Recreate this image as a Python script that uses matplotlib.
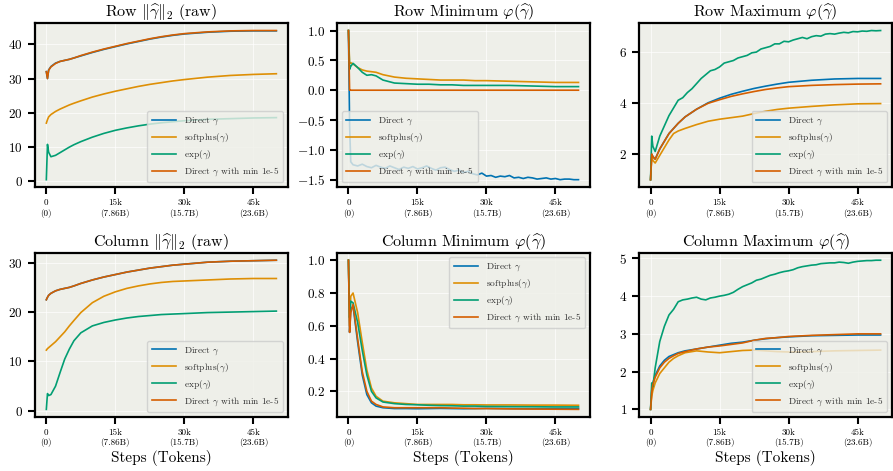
import matplotlib
matplotlib.use("Agg")
import matplotlib.pyplot as plt

plt.rcParams["font.family"] = ["cmr10", "DejaVu Serif"]
plt.rcParams["mathtext.fontset"] = "cm"
plt.rcParams["axes.formatter.use_mathtext"] = True

# x grids (training steps)
steps = [0, 250, 500, 1000, 2000, 3000, 4000, 5000, 6000, 7500, 10000, 12500, 15000,
         17500, 20000, 22500, 25000, 27500, 30000, 35000, 40000, 45000, 50000]
steps_fine = [0, 250, 500, 1000, 2000, 3000, 4000, 5000, 6000, 7000, 8000, 9000, 10000,
              11000, 12000, 13000, 14000, 15000, 16000, 17000, 18000, 19000, 20000,
              21000, 22000, 23000, 24000, 25000, 26000, 27000, 28000, 29000, 30000,
              31000, 32000, 33000, 34000, 35000, 36000, 37000, 38000, 39000, 40000,
              41000, 42000, 43000, 44000, 45000, 46000, 47000, 48000, 49000, 50000]

labels = [r"Direct $\gamma$", r"softplus($\gamma$)", r"exp($\gamma$)", r"Direct $\gamma$ with min 1e-5"]
colors = ["#0173b2", "#de8f05", "#029e73", "#d55e00"]

# Row ||gamma||_2
row_l2_direct = [32, 30, 32.5, 33.5, 34.5, 35, 35.3, 35.6, 36, 36.6, 37.6, 38.5, 39.3, 40.1, 40.8,
                 41.5, 42.1, 42.6, 43, 43.5, 43.8, 43.9, 43.9]
row_l2_softplus = [17, 18, 18.8, 19.5, 20.4, 21.1, 21.7, 22.3, 22.8, 23.5, 24.6, 25.5, 26.3, 27,
                   27.7, 28.3, 28.8, 29.3, 29.7, 30.4, 30.9, 31.2, 31.4]
row_l2_exp = [0.5, 10.8, 8.5, 7.2, 7.6, 8.4, 9.2, 10, 10.7, 11.6, 12.9, 14, 14.9, 15.6, 16.2,
              16.7, 17.1, 17.4, 17.7, 18.1, 18.3, 18.5, 18.6]
row_l2_min = [32, 30, 32.4, 33.4, 34.4, 35, 35.3, 35.6, 36, 36.7, 37.7, 38.6, 39.4, 40.2, 40.9,
              41.6, 42.2, 42.7, 43.1, 43.6, 43.9, 44.0, 44.0]

# Row minimum phi
row_min_direct = [1.0, -0.6, -1.2, -1.25, -1.27, -1.24, -1.28, -1.3, -1.26, -1.29, -1.31, -1.27,
                  -1.3, -1.33, -1.29, -1.31, -1.28, -1.32, -1.3, -1.27, -1.31, -1.34, -1.3,
                  -1.29, -1.33, -1.36, -1.34, -1.38, -1.36, -1.4, -1.42, -1.39, -1.44, -1.43,
                  -1.46, -1.44, -1.45, -1.43, -1.47, -1.46, -1.48, -1.46, -1.47, -1.49, -1.48,
                  -1.47, -1.49, -1.48, -1.5, -1.49, -1.49, -1.5, -1.5]
row_min_softplus = [1.0, 0.45, 0.46, 0.44, 0.38, 0.34, 0.32, 0.31, 0.3, 0.26, 0.22, 0.2, 0.19,
                    0.18, 0.17, 0.17, 0.17, 0.16, 0.16, 0.15, 0.14, 0.13, 0.13]
row_min_exp = [1.0, 0.35, 0.4, 0.45, 0.38, 0.3, 0.25, 0.26, 0.24, 0.17, 0.12, 0.11, 0.1, 0.1,
               0.09, 0.09, 0.08, 0.08, 0.08, 0.08, 0.07, 0.06, 0.06]
row_min_min = [1.0, 0.0, 0.0, 0.0, 0.0, 0.0, 0.0, 0.0, 0.0, 0.0, 0.0, 0.0, 0.0, 0.0, 0.0, 0.0,
               0.0, 0.0, 0.0, 0.0, 0.0, 0.0, 0.0]

# Row maximum phi
row_max_direct = [1.0, 2.0, 1.9, 1.8, 2.2, 2.5, 2.8, 3.0, 3.2, 3.45, 3.75, 4.0, 4.18, 4.33, 4.45,
                  4.56, 4.65, 4.73, 4.8, 4.88, 4.93, 4.95, 4.95]
row_max_softplus = [1.0, 1.9, 1.75, 1.65, 1.95, 2.25, 2.55, 2.8, 2.9, 3.0, 3.15, 3.28, 3.36, 3.42,
                    3.48, 3.58, 3.67, 3.74, 3.79, 3.86, 3.92, 3.96, 3.97]
row_max_exp = [1.0, 2.7, 2.3, 2.1, 2.7, 3.1, 3.5, 3.8, 4.1, 4.2, 4.4, 4.55, 4.75, 4.95, 5.1, 5.25,
               5.3, 5.4, 5.55, 5.6, 5.65, 5.75, 5.8, 5.85, 5.95, 5.98, 6.1, 6.15, 6.2, 6.3, 6.3,
               6.4, 6.38, 6.45, 6.5, 6.55, 6.5, 6.58, 6.62, 6.6, 6.68, 6.7, 6.68, 6.72, 6.75,
               6.73, 6.78, 6.77, 6.8, 6.79, 6.82, 6.81, 6.82]
row_max_min = [1.0, 2.0, 1.9, 1.8, 2.2, 2.5, 2.8, 3.0, 3.2, 3.45, 3.75, 3.98, 4.12, 4.25, 4.35,
               4.44, 4.52, 4.58, 4.63, 4.68, 4.71, 4.73, 4.74]

# Column ||gamma||_2
col_l2_direct = [22.5, 23.0, 23.4, 23.8, 24.3, 24.6, 24.8, 25.0, 25.3, 25.8, 26.5, 27.1, 27.6,
                 28.1, 28.5, 28.9, 29.2, 29.5, 29.7, 30.1, 30.3, 30.4, 30.5]
col_l2_softplus = [12.3, 12.6, 12.8, 13.2, 14, 15, 16, 17.2, 18.3, 19.9, 21.9, 23.2, 24.1, 24.8,
                   25.3, 25.7, 26, 26.2, 26.3, 26.5, 26.7, 26.8, 26.8]
col_l2_exp = [0.3, 3.5, 3.1, 3.3, 5, 7.8, 10.5, 12.5, 14.2, 15.8, 17.2, 17.9, 18.4, 18.8, 19.1,
              19.3, 19.5, 19.6, 19.7, 19.9, 20.0, 20.1, 20.2]
col_l2_min = [22.5, 23.0, 23.4, 23.8, 24.3, 24.6, 24.8, 25.0, 25.3, 25.8, 26.5, 27.1, 27.6,
              28.1, 28.5, 28.9, 29.2, 29.5, 29.7, 30.1, 30.3, 30.4, 30.5]

# Column minimum phi
col_min_direct = [1.0, 0.56, 0.7, 0.72, 0.5, 0.3, 0.18, 0.13, 0.11, 0.1, 0.095, 0.095, 0.094,
                  0.095, 0.096, 0.095, 0.094, 0.095, 0.096, 0.095, 0.094, 0.095, 0.095]
col_min_softplus = [1.0, 0.6, 0.78, 0.8, 0.68, 0.5, 0.33, 0.22, 0.17, 0.14, 0.13, 0.125, 0.12,
                    0.12, 0.12, 0.12, 0.118, 0.118, 0.117, 0.117, 0.116, 0.116, 0.115]
col_min_exp = [1.0, 0.65, 0.75, 0.74, 0.62, 0.45, 0.3, 0.2, 0.16, 0.135, 0.125, 0.12, 0.118,
               0.115, 0.113, 0.112, 0.11, 0.11, 0.108, 0.107, 0.106, 0.105, 0.105]
col_min_min = [1.0, 0.56, 0.68, 0.73, 0.52, 0.32, 0.2, 0.14, 0.12, 0.105, 0.1, 0.1, 0.1, 0.1,
               0.1, 0.098, 0.097, 0.095, 0.095, 0.093, 0.092, 0.091, 0.09]

# Column maximum phi
col_max_direct = [1.0, 1.5, 1.7, 1.9, 2.15, 2.3, 2.4, 2.45, 2.5, 2.55, 2.6, 2.65, 2.7, 2.75,
                  2.78, 2.83, 2.87, 2.9, 2.92, 2.95, 2.96, 2.97, 2.97]
col_max_softplus = [1.0, 1.35, 1.5, 1.7, 1.95, 2.1, 2.25, 2.35, 2.42, 2.5, 2.55, 2.52, 2.5, 2.53,
                    2.56, 2.57, 2.55, 2.53, 2.52, 2.53, 2.55, 2.56, 2.57]
col_max_exp = [1.0, 1.7, 1.6, 2.1, 2.8, 3.2, 3.5, 3.65, 3.85, 3.9, 3.92, 3.95, 3.97, 3.92, 3.9,
               3.95, 3.97, 4.0, 4.02, 4.05, 4.1, 4.18, 4.25, 4.3, 4.35, 4.42, 4.45, 4.5, 4.55,
               4.58, 4.62, 4.65, 4.67, 4.7, 4.75, 4.78, 4.8, 4.82, 4.83, 4.86, 4.87, 4.88, 4.88,
               4.9, 4.89, 4.87, 4.9, 4.92, 4.93, 4.94, 4.94, 4.95, 4.95]
col_max_min = [1.0, 1.45, 1.65, 1.85, 2.1, 2.25, 2.35, 2.42, 2.48, 2.53, 2.6, 2.65, 2.68, 2.72,
               2.76, 2.83, 2.88, 2.9, 2.93, 2.96, 2.98, 3.0, 3.0]

xticks = [0, 15000, 30000, 45000]
xticklabels = ["0\n(0)", "15k\n(7.86B)", "30k\n(15.7B)", "45k\n(23.6B)"]

panels = [
    (r"Row $\|\widehat{\gamma}\|_2$ (raw)",
     [(steps, row_l2_direct), (steps, row_l2_softplus), (steps, row_l2_exp), (steps, row_l2_min)],
     "lower right", [0, 10, 20, 30, 40]),
    (r"Row Minimum $\varphi(\widehat{\gamma})$",
     [(steps_fine, row_min_direct), (steps, row_min_softplus), (steps, row_min_exp), (steps, row_min_min)],
     "lower left", [-1.5, -1.0, -0.5, 0.0, 0.5, 1.0]),
    (r"Row Maximum $\varphi(\widehat{\gamma})$",
     [(steps, row_max_direct), (steps, row_max_softplus), (steps_fine, row_max_exp), (steps, row_max_min)],
     "lower right", [2, 4, 6]),
    (r"Column $\|\widehat{\gamma}\|_2$ (raw)",
     [(steps, col_l2_direct), (steps, col_l2_softplus), (steps, col_l2_exp), (steps, col_l2_min)],
     "lower right", [0, 10, 20, 30]),
    (r"Column Minimum $\varphi(\widehat{\gamma})$",
     [(steps, col_min_direct), (steps, col_min_softplus), (steps, col_min_exp), (steps, col_min_min)],
     "upper right", [0.2, 0.4, 0.6, 0.8, 1.0]),
    (r"Column Maximum $\varphi(\widehat{\gamma})$",
     [(steps, col_max_direct), (steps, col_max_softplus), (steps_fine, col_max_exp), (steps, col_max_min)],
     "lower right", [1, 2, 3, 4, 5]),
]

fig, axes = plt.subplots(2, 3, figsize=(8.93, 4.71), dpi=100)
fig.subplots_adjust(left=0.039, right=0.999, top=0.951, bottom=0.115, wspace=0.194, hspace=0.40)

for i, (ax, (title, series, loc, yticks)) in enumerate(zip(axes.flat, panels)):
    ax.set_facecolor("#eeefe9")
    ax.grid(True, color="white", linewidth=0.7, alpha=0.7)
    ax.set_axisbelow(True)
    for (x, y), lab, c in zip(series, labels, colors):
        ax.plot(x, y, color=c, linewidth=1.2, label=lab)
    ax.set_title(title, fontsize=11.5, pad=4)
    ax.set_xticks(xticks)
    ax.set_xticklabels(xticklabels, fontsize=6.5)
    ax.set_yticks(yticks)
    ax.tick_params(axis="y", labelsize=9.5)
    ax.tick_params(direction="out", length=5, width=1.5, color="black")
    for s in ax.spines.values():
        s.set_linewidth(1.6)
        s.set_color("black")
    leg = ax.legend(loc=loc, fontsize=6.8, framealpha=0.8, facecolor="#eeefe9",
                    edgecolor="#cccccc", handlelength=2.6, borderpad=0.45, labelspacing=0.45)
    for t in leg.get_texts():
        t.set_color("#333333")
    if i >= 3:
        ax.set_xlabel("Steps (Tokens)", fontsize=11, labelpad=2)

fig.savefig("out.png", dpi=100)
